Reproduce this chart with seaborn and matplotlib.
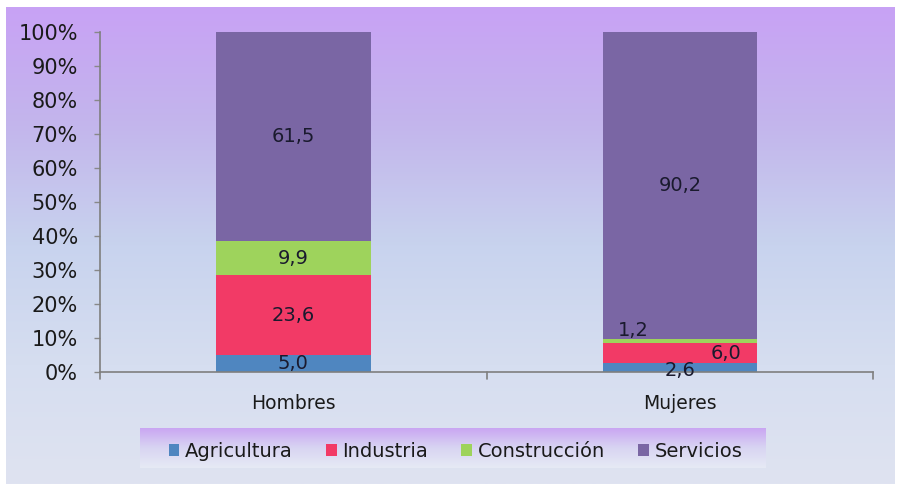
import matplotlib
matplotlib.use("Agg")
import matplotlib.pyplot as plt
from matplotlib.colors import LinearSegmentedColormap
from matplotlib.patches import Patch
import numpy as np
import pandas as pd
import seaborn as sns

# datos del gráfico
categorias = ["Hombres", "Mujeres"]
sectores = ["Agricultura", "Industria", "Construcción", "Servicios"]
agricultura = [5.0, 2.6]
industria = [23.6, 6.0]
construccion = [9.9, 1.2]
servicios = [61.5, 90.2]
etiquetas_y = ["0%", "10%", "20%", "30%", "40%", "50%", "60%", "70%", "80%", "90%", "100%"]

colores = {
    "Agricultura": "#4f86c0",
    "Industria": "#f23a66",
    "Construcción": "#9ed35c",
    "Servicios": "#7a66a4",
}

sns.set_theme(style="white")
plt.rcParams["font.family"] = ["DejaVu Sans"]

df = pd.DataFrame({
    "categoria": categorias,
    "Agricultura": agricultura,
    "Industria": industria,
    "Construcción": construccion,
    "Servicios": servicios,
})

# acumulados para apilar
acum = df[sectores].cumsum(axis=1)
acum["categoria"] = df["categoria"]

fig = plt.figure(figsize=(8.97, 4.84), dpi=100)
fig.patch.set_facecolor("white")

# fondo degradado
bg = fig.add_axes([0.007, 0.0, 0.99, 0.985], zorder=-10)
grad = LinearSegmentedColormap.from_list(
    "fondo", ["#c8a2f5", "#c3b6ec", "#c8d3ee", "#d6def0", "#dfe3f1"]
)
bg.imshow(np.linspace(0, 1, 256).reshape(-1, 1), aspect="auto", cmap=grad,
          extent=[0, 1, 0, 1], origin="upper")
bg.axis("off")

ax = fig.add_axes([0.1115, 0.231, 0.862, 0.703])
ax.patch.set_alpha(0)

for sector in reversed(sectores):
    sns.barplot(
        data=acum, x="categoria", y=sector, color=colores[sector],
        width=0.4, saturation=1, ax=ax, edgecolor="none",
    )

ax.set_ylim(0, 100)
ax.set_xlim(-0.5, 1.5)
ax.set_yticks(range(0, 101, 10))
ax.set_yticklabels(etiquetas_y, fontsize=15, color="#1a1a1a")
ax.set_xticks([0, 1])
ax.set_xticklabels(categorias, fontsize=13.5, color="#1a1a1a")
ax.tick_params(axis="x", length=0, pad=16)
ax.tick_params(axis="y", length=4, width=1, color="#888888", direction="out", left=True, pad=12)
ax.set_xlabel("")
ax.set_ylabel("")
for side in ["top", "right"]:
    ax.spines[side].set_visible(False)
for side in ["left", "bottom"]:
    ax.spines[side].set_color("#7f7f7f")
    ax.spines[side].set_linewidth(1.2)
for xb in [-0.5, 0.5, 1.5]:
    ax.plot([xb, xb], [0, -2], color="#7f7f7f", lw=1.2, clip_on=False)

# etiquetas de datos
txt = dict(fontsize=14, color="#1a1a2e", ha="center", va="center")
base = 0
for sector, val in zip(sectores, df.loc[0, sectores]):
    ax.text(0, base + val / 2, f"{val:.1f}".replace(".", ","), **txt)
    base += val
ax.text(1, 2.6 + 6.0 + 1.2 + 90.2 / 2, "90,2", **txt)
ax.text(0.88, 12.4, "1,2", **txt)
ax.text(1.12, 5.6, "6,0", **txt)
ax.text(1.0, 0.6, "2,6", **txt)

# leyenda con fondo degradado
lg_ax = fig.add_axes([0.156, 0.033, 0.697, 0.083], zorder=-5)
lg_grad = LinearSegmentedColormap.from_list("leyenda", ["#c9a4f3", "#d8d4f2", "#e6eaf5"])
lg_ax.imshow(np.linspace(0, 1, 64).reshape(-1, 1), aspect="auto", cmap=lg_grad,
             extent=[0, 1, 0, 1], origin="upper")
lg_ax.axis("off")

handles = [Patch(facecolor=colores[s], edgecolor="none") for s in sectores]
fig.legend(
    handles, sectores, loc="center", bbox_to_anchor=(0.508, 0.068), ncol=4,
    frameon=False, fontsize=14, handlelength=0.55, handleheight=0.55,
    handletextpad=0.3, columnspacing=1.7, labelcolor="#1a1a1a",
)

fig.savefig("out.png", dpi=100)
